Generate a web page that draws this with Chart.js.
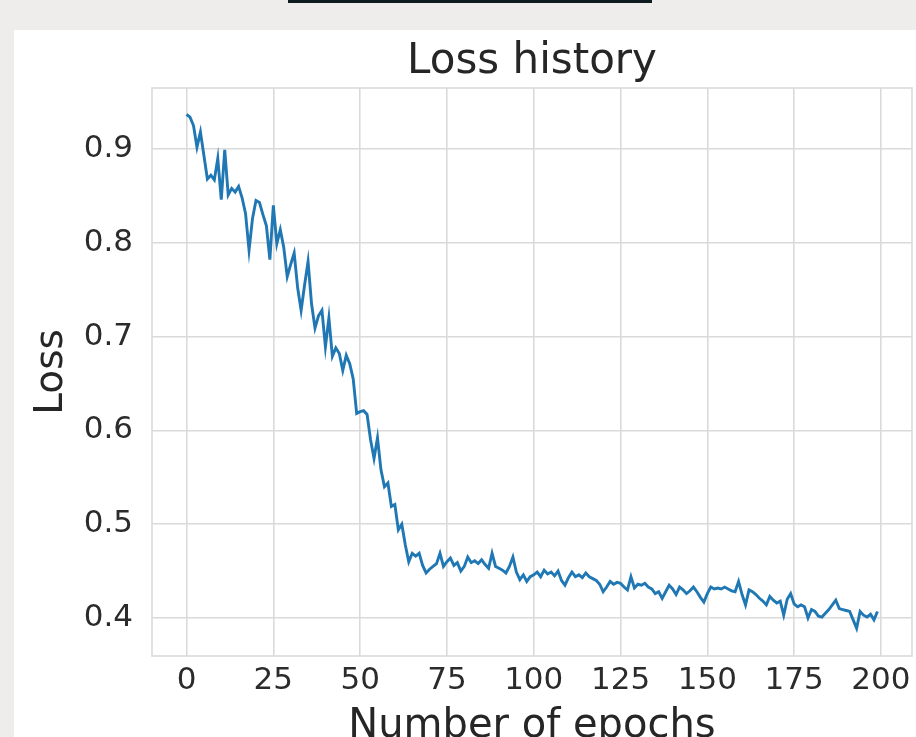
<!DOCTYPE html>
<html>
<head>
<meta charset="utf-8">
<script src="https://cdn.jsdelivr.net/npm/chart.js@4.4.1/dist/chart.umd.min.js"></script>
<style>
  html, body { margin: 0; padding: 0; background: #eeedeb; overflow: hidden; }
  body { width: 916px; height: 737px; position: relative; }
  .topbar { position: absolute; left: 288px; top: 0; width: 364px; height: 3px; background: #0e1b1f; }
  .card { position: absolute; left: 14px; top: 30px; width: 902px; height: 740px; background: #fff; }
  canvas { display: block; }
</style>
</head>
<body>
<div class="topbar"></div>
<div class="card"><canvas id="loss" width="902" height="740"></canvas></div>
<script>
// training loss per epoch (epochs 0..199)
const lossValues = [
  0.937, 0.934, 0.925, 0.902, 0.918, 0.893, 0.868, 0.872, 0.867, 0.890,
  0.846, 0.899, 0.851, 0.858, 0.854, 0.860, 0.848, 0.831, 0.792, 0.826,
  0.845, 0.843, 0.830, 0.818, 0.782, 0.840, 0.799, 0.814, 0.795, 0.764,
  0.777, 0.789, 0.752, 0.728, 0.755, 0.780, 0.735, 0.709, 0.722, 0.728,
  0.689, 0.720, 0.679, 0.688, 0.682, 0.664, 0.680, 0.671, 0.655, 0.618,
  0.620, 0.621, 0.617, 0.590, 0.570, 0.592, 0.558, 0.540, 0.544, 0.519,
  0.521, 0.494, 0.500, 0.478, 0.460, 0.469, 0.466, 0.469, 0.456, 0.448,
  0.452, 0.455, 0.458, 0.469, 0.455, 0.460, 0.464, 0.456, 0.459, 0.450,
  0.455, 0.465, 0.459, 0.461, 0.458, 0.462, 0.457, 0.453, 0.469, 0.455,
  0.453, 0.451, 0.448, 0.455, 0.465, 0.449, 0.441, 0.446, 0.439, 0.444,
  0.446, 0.449, 0.444, 0.451, 0.447, 0.449, 0.445, 0.450, 0.440, 0.435,
  0.443, 0.449, 0.444, 0.446, 0.443, 0.448, 0.444, 0.442, 0.440, 0.436,
  0.428, 0.433, 0.439, 0.436, 0.438, 0.437, 0.433, 0.430, 0.444, 0.432,
  0.436, 0.435, 0.437, 0.433, 0.431, 0.426, 0.428, 0.421, 0.428, 0.435,
  0.431, 0.425, 0.433, 0.430, 0.426, 0.429, 0.433, 0.428, 0.422, 0.417,
  0.426, 0.433, 0.431, 0.432, 0.431, 0.433, 0.431, 0.429, 0.428, 0.439,
  0.425, 0.414, 0.430, 0.428, 0.425, 0.421, 0.418, 0.414, 0.423, 0.419,
  0.416, 0.418, 0.403, 0.420, 0.426, 0.415, 0.412, 0.414, 0.412, 0.400,
  0.409, 0.407, 0.402, 0.401, 0.405, 0.409, 0.414, 0.419, 0.410, 0.409,
  0.408, 0.407, 0.398, 0.389, 0.407, 0.403, 0.401, 0.404, 0.398, 0.407
];

const xTicks = [0, 25, 50, 75, 100, 125, 150, 175, 200];
const yTicks = [0.4, 0.5, 0.6, 0.7, 0.8, 0.9];

// view limits (5% margin around the data like matplotlib)
const xRange = [-9.95, 208.95];
const yRange = [0.3595, 0.965];

const FONT = "'DejaVu Sans', sans-serif";
const GRID = '#dadada';
const TEXT = '#2b2b2b';

const points = lossValues.map((v, i) => ({ x: i, y: v }));

// all four spines around the plot area
const frame = {
  id: 'frame',
  beforeDatasetsDraw(chart) {
    const { ctx, chartArea: a } = chart;
    ctx.save();
    ctx.strokeStyle = GRID;
    ctx.lineWidth = 1.6;
    ctx.strokeRect(a.left, a.top, a.right - a.left, a.bottom - a.top);
    ctx.restore();
  }
};

new Chart(document.getElementById('loss'), {
  type: 'line',
  data: {
    datasets: [{
      data: points,
      borderColor: '#1f77b4',
      borderWidth: 2.9,
      pointRadius: 0,
      tension: 0,
      fill: false
    }]
  },
  options: {
    responsive: false,
    animation: false,
    events: [],
    layout: { padding: { left: 0, right: 4, top: 0, bottom: 0 } },
    plugins: {
      legend: { display: false },
      tooltip: { enabled: false },
      title: {
        display: true,
        text: 'Loss history',
        fullSize: false,
        color: '#262626',
        font: { family: FONT, size: 42, weight: 'normal' },
        padding: { top: 7, bottom: 0.6 }
      }
    },
    scales: {
      x: {
        type: 'linear',
        min: xRange[0],
        max: xRange[1],
        afterBuildTicks: s => { s.ticks = xTicks.map(v => ({ value: v })); },
        afterFit: s => { s.height = 114; s.paddingLeft = 0; s.paddingRight = 0; },
        grid: { color: GRID, lineWidth: 1.6, drawTicks: false },
        border: { display: false },
        ticks: { color: TEXT, padding: 6, maxRotation: 0, autoSkip: false,
                 font: { family: FONT, size: 31 } },
        title: { display: true, text: 'Number of epochs', color: '#262626',
                 font: { family: FONT, size: 40 }, padding: { top: 0, bottom: 19 } }
      },
      y: {
        min: yRange[0],
        max: yRange[1],
        afterBuildTicks: s => { s.ticks = yTicks.map(v => ({ value: v })); },
        afterFit: s => { s.width = 138; s.paddingTop = 0; s.paddingBottom = 0; },
        grid: { color: GRID, lineWidth: 1.6, drawTicks: false },
        border: { display: false },
        ticks: { color: TEXT, padding: 19, autoSkip: false,
                 callback: v => v.toFixed(1),
                 font: { family: FONT, size: 31 } },
        title: { display: true, text: 'Loss', color: '#262626',
                 font: { family: FONT, size: 39 }, padding: { top: 14, bottom: 0 } }
      }
    }
  },
  plugins: [frame]
});
</script>
</body>
</html>
